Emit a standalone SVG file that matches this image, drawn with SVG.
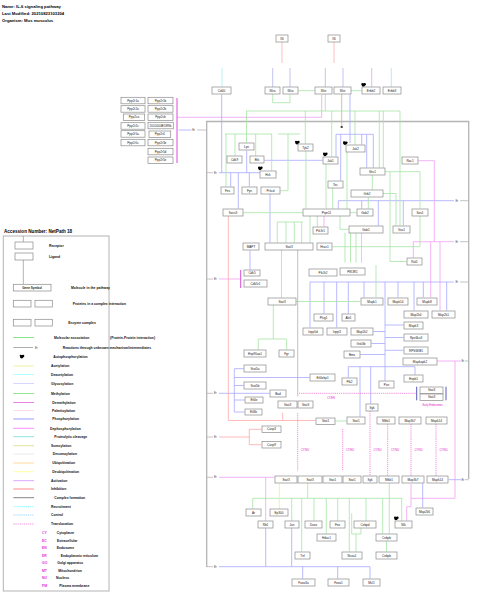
<svg xmlns="http://www.w3.org/2000/svg" width="480" height="603" viewBox="0 0 480 603">
<style>
text{font-family:"Liberation Sans",Arial,sans-serif}
.hd{font-size:4.2px;font-weight:bold;fill:#000}
.acc{font-size:4.6px;font-weight:bold;fill:#000}
.n rect{fill:#fff;stroke:#8a8a8a;stroke-width:.7}
.n text{font-size:3.1px;fill:#222;text-anchor:middle}
.lg{font-size:3.4px;font-weight:bold;fill:#111}
.ab{font-size:3.4px;font-weight:bold;fill:#e030e0}
.er{font-size:2.8px;fill:#444}
.lo{font-size:2.6px;fill:#e020c0}
path{fill:none;stroke-width:.8}
.g{stroke:#a4e4a4;marker-end:url(#ag)}
.gn{stroke:#a4e4a4}
.b{stroke:#a8a8ff;marker-end:url(#ab)}
.bn{stroke:#a8a8ff}
.m{stroke:#f2a0f2;marker-end:url(#am)}
.mn{stroke:#f2a0f2}
.r{stroke:#ffa8a8;marker-end:url(#ar)}
.y{stroke:#eeee90;marker-end:url(#ay)}
.k{stroke:#b0b0b0;marker-end:url(#ak)}
.kn{stroke:#b4b4b4}
.t{stroke:#f070d0;stroke-dasharray:1.2 .9;marker-end:url(#at)}
.cell{stroke:#b4b4b4;stroke-width:1.3}
</style>
<defs>
<marker id="ag" viewBox="0 0 6 6" refX="5.5" refY="3" markerWidth="3.4" markerHeight="3.4" orient="auto" markerUnits="userSpaceOnUse"><path d="M0,0L6,3L0,6z" fill="#00c000" stroke="none"/></marker>
<marker id="ab" viewBox="0 0 6 6" refX="5.5" refY="3" markerWidth="3.4" markerHeight="3.4" orient="auto" markerUnits="userSpaceOnUse"><path d="M0,0L6,3L0,6z" fill="#0000ff" stroke="none"/></marker>
<marker id="am" viewBox="0 0 6 6" refX="5.5" refY="3" markerWidth="3.4" markerHeight="3.4" orient="auto" markerUnits="userSpaceOnUse"><path d="M0,0L6,3L0,6z" fill="#ff00ff" stroke="none"/></marker>
<marker id="ar" viewBox="0 0 6 6" refX="5.5" refY="3" markerWidth="3.4" markerHeight="3.4" orient="auto" markerUnits="userSpaceOnUse"><path d="M0,0L6,3L0,6z" fill="#ff0000" stroke="none"/></marker>
<marker id="ay" viewBox="0 0 6 6" refX="5.5" refY="3" markerWidth="3.4" markerHeight="3.4" orient="auto" markerUnits="userSpaceOnUse"><path d="M0,0L6,3L0,6z" fill="#e0e000" stroke="none"/></marker>
<marker id="ak" viewBox="0 0 6 6" refX="5.5" refY="3" markerWidth="3.4" markerHeight="3.4" orient="auto" markerUnits="userSpaceOnUse"><path d="M0,0L6,3L0,6z" fill="#000" stroke="none"/></marker>
<marker id="at" viewBox="0 0 6 6" refX="5.5" refY="3" markerWidth="3.4" markerHeight="3.4" orient="auto" markerUnits="userSpaceOnUse"><path d="M0,0L6,3L0,6z" fill="#c00090" stroke="none"/></marker>
<g id="blob"><circle cx="0" cy="0" r="1.7" fill="#000"/><circle cx="1.4" cy="-0.7" r="1.2" fill="#000"/><circle cx="-1" cy="-1" r="1" fill="#000"/><path d="M-1.2,0.8L-2.8,2.6L-0.4,2.2z" fill="#0000ff" stroke="none"/></g>
</defs>

<rect width="480" height="603" fill="#fff"/>

<g id="header">
<text class="hd" x="2" y="8.3">Name: IL-6 signaling pathway</text>
<text class="hd" x="2" y="14.9">Last Modified: 20210823103204</text>
<text class="hd" x="2" y="21.5">Organism: Mus musculus</text>
</g>

<g id="cell">
<path class="cell" d="M206.7,567V121.5H468.7V479"/>
</g>

<g id="connectors">
<path d="M282,42V63M334,42V63" stroke="#ffb0b0"/>
<path d="M222,68V87" stroke="#a8f0f0"/>
<path d="M272.7,68V87M290,68V87M325.3,68V87M343,68V87" stroke="#b4b4f0"/>
<path d="M371.7,68V87" stroke="#e0a4ea"/>
<path d="M391.3,68V87" stroke="#a8e4f0"/>
<path class="g" d="M298,90.7H314.5"/>
<path class="g" d="M272.7,94V102.7H290V94.6"/>
<path class="g" d="M351,90.7H361.5"/>
<path class="kn" d="M341.7,94V126"/>
<rect x="340.7" y="126" width="2" height="2" fill="#444"/>
<path class="m" d="M177,117.3H321.7V94.6"/>
<path class="kn" d="M197,130H206.7"/>
<text class="er" x="192.2" y="131.1">Er</text>
<path class="b" d="M191.5,130H178.5"/>

<path class="kn" d="M206.7,172.7H213M206.7,279H213M206.7,393.3H213M206.7,437H213M206.7,477.3H213M206.7,566.7H213"/>
<text class="er" x="214" y="173.8">Er</text>
<text class="er" x="214" y="280.1">Er</text>
<text class="er" x="214" y="394.4">Er</text>
<text class="er" x="214" y="438.1">Er</text>
<text class="er" x="214" y="478.4">Er</text>
<text class="er" x="214" y="567.8">Er</text>
<path class="kn" d="M460,200.7H468.7M460,241.7H468.7M460,282H468.7M465,361H468.7M465,479.7H468.7"/>
<text class="er" x="455.5" y="201.8">Er</text>
<text class="er" x="455.5" y="242.8">Er</text>
<text class="er" x="455.5" y="283.1">Er</text>
<text class="er" x="461.5" y="362.1">Er</text>
<text class="er" x="461.5" y="480.8">Er</text>

<path class="bn" d="M219,172.7H276.7"/>
<path class="b" d="M230.7,172.7V186.6"/>
<path class="b" d="M249.3,172.7V186.6"/>
<path class="b" d="M238.3,172.7V208.6"/>
<path class="b" d="M246.7,172.7V150.6"/>
<path class="b" d="M221.7,172.7V94.6"/>
<path class="m" d="M219,279H240"/>
<path class="b" d="M219,393.3H269.5"/>
<path class="bn" d="M234.3,368.7V412"/>
<path class="b" d="M234.3,368.7H243.6"/>
<path class="b" d="M234.3,385.5H243.6"/>
<path class="b" d="M234.3,400H244.6"/>
<path class="b" d="M234.3,412H244.6"/>
<path class="b" d="M234.3,377.5H309.6"/>
<path class="r" d="M219,437H249.3V429.3H261.4"/>
<path class="r" d="M249.3,437V444.7H261.4"/>
<path class="m" d="M219,477.3H274.5"/>
<path class="m" d="M265.7,477.3V520.6"/>
<path class="b" d="M219,566.7H370V578.6"/>
<path class="b" d="M265.7,566.7V528.3"/>
<path class="b" d="M291.7,566.7V528.3"/>
<path class="b" d="M302.7,566.7V578.6"/>
<path class="b" d="M337.7,566.7V578.6"/>

<path class="b" d="M454,200.7H338.3V208.6"/>
<path class="b" d="M361.7,200.7V208.6"/>
<path class="b" d="M378.3,200.7V225.6"/>
<path class="b" d="M403.3,200.7V225.6"/>
<path class="m" d="M454,241.7H413.3V257.6"/>
<path class="m" d="M434.3,241.7V160.7H418.3"/>
<path class="m" d="M440,241.7V310.4"/>
<path class="m" d="M430.7,241.7V297.4"/>
<path class="b" d="M454,282H310V327.4"/>
<path class="b" d="M324,282V313.6"/>
<path class="b" d="M336.7,282V327.4"/>
<path class="b" d="M348.3,282V313.6"/>
<path class="b" d="M364,282V297.4"/>
<path class="b" d="M398,282V297.4"/>
<path class="b" d="M414,282V310.4"/>
<path class="b" d="M423.3,282V297.4"/>
<path class="b" d="M446.7,282V310.4"/>
<path class="b" d="M385,282V380.5"/>
<path class="b" d="M385,325H403.6"/>
<path class="b" d="M385,337.5H403.6"/>
<path class="b" d="M385,350.3H403.6"/>
<path class="b" d="M385,331.5H373.3"/>
<path class="b" d="M385,343.5H371.3"/>
<path class="b" d="M385,354.5H360.3"/>
<path class="bn" d="M348.3,366.7H415"/>
<path class="b" d="M348.3,366.7V377.6"/>
<path class="b" d="M415,366.7V374.6"/>
<path class="b" d="M360,366.7V416.6"/>
<path class="b" d="M370.7,366.7V403.6"/>
<path class="m" d="M461,361H437.3"/>
<path class="mn" d="M455,361V498.3H411"/>
<path class="m" d="M411,498.3V484"/>
<path class="m" d="M411,498.3V506.7H406.7V520.6"/>
<path class="b" d="M461,479.7H448.5"/>

<path class="b" d="M322.7,160.3H264.4"/>
<path class="b" d="M270,194V242.6"/>
<path class="b" d="M250,269.6V250.4"/>
<path class="bn" d="M336,134.3H373.3"/>
<path class="b" d="M340.7,134.3V180.6"/>
<path class="b" d="M366.7,134.3V167.6"/>
<path class="b" d="M373.3,134.3V167.6"/>
<path class="b" d="M350,143V94.6"/>
<path class="b" d="M361.7,134.3V144.6"/>
<path class="b" d="M336,134.3V156.6"/>

<path class="gn" d="M246,111H400M325.3,94V111"/>
<path class="g" d="M246.5,111V142.6"/>
<path class="g" d="M305.3,111V143.6"/>
<path class="g" d="M331.7,111V156.6"/>
<path class="g" d="M355,111V144.6"/>
<path class="g" d="M379.3,111V167.6"/>
<path class="g" d="M383.3,111V167.6"/>
<path class="g" d="M400,111V225.6"/>
<path class="gn" d="M225,134H272"/>
<path class="g" d="M226,134V186.6"/>
<path class="g" d="M235,134V155.6"/>
<path class="g" d="M255.7,134V155.6"/>
<path class="g" d="M271.7,134V170.6"/>
<path class="gn" d="M278,134H300"/>
<path class="g" d="M288,134V190.7H280.4"/>
<path class="g" d="M303,212.7H243.4"/>
<path class="g" d="M306,151V208.6"/>
<path class="g" d="M326,164V208.6"/>
<path class="g" d="M332.7,187.6V208.6"/>
<path class="g" d="M347,151.5V208.6"/>
<path class="g" d="M372.3,175V189.6"/>
<path class="g" d="M368.3,197.3V208.6"/>
<path class="g" d="M383,193.5H396V225.6"/>
<path class="g" d="M350,212.7H356.6"/>
<path class="g" d="M385,171.7H420V208.6"/>
<path class="g" d="M340,216V229.3H348.6"/>
<path class="g" d="M317.3,216V226.6"/>
<path class="m" d="M324,216V226.6"/>
<path class="gn" d="M277.3,222H303"/>
<path class="g" d="M277.3,222V242.6"/>
<path class="g" d="M286,222V242.6"/>
<path class="g" d="M294.3,222V242.6"/>
<path class="g" d="M301.7,222V242.6"/>
<path class="g" d="M310,216V242.6"/>
<path class="g" d="M345,232.7V262.6"/>
<path class="g" d="M350.5,232.7V262.6"/>
<path class="g" d="M356,232.7V262.6"/>
<path class="g" d="M361.5,232.7V262.6"/>
<path class="g" d="M420,216V246.7H332.4"/>
<path class="g" d="M390,171.7V261.5H406.6"/>
<path class="g" d="M281.5,250V297.6"/>
<path class="g" d="M296,301.5H360.4"/>
<path class="gn" d="M273.3,305V339M258.3,339H286.7"/>
<path class="g" d="M258.3,339V349.6"/>
<path class="g" d="M286.7,339V349.6"/>
<path class="g" d="M376,265V297.4"/>
<path class="g" d="M347,421H335.4"/>

<path class="k" d="M297.7,250V396.3"/>
<path class="r" d="M228.3,216V420.5H315.6"/>
<path class="r" d="M282.7,420.5V412.6"/>

<path class="t" d="M299,393.3H416.2"/>
<path class="t" d="M297.7,413V470.6"/>
<path class="t" d="M342.7,429V470.6"/>
<path class="t" d="M370,411V475.6"/>
<path class="t" d="M387.7,424V475.6"/>
<path class="t" d="M411,424V475.6"/>
<path class="t" d="M436,424V475.6"/>
<text class="lo" x="327" y="398.5">CY/EN</text>
<text class="lo" x="301" y="451">CY/NU</text>
<text class="lo" x="346" y="451">CY/NU</text>
<text class="lo" x="373.5" y="451">CY/NU</text>
<text class="lo" x="391" y="451">CY/NU</text>
<text class="lo" x="414.5" y="451">CY/NU</text>
<text class="lo" x="439.5" y="451">CY/NU</text>

<path class="gn" d="M307.7,483.3V498.3M252.7,498.3H402.3"/>
<path class="g" d="M252.7,498.3V508.6"/>
<path class="g" d="M291.7,498.3V520.6"/>
<path class="g" d="M301.7,498.3V551.6"/>
<path class="g" d="M314,498.3V520.6"/>
<path class="g" d="M326.3,498.3V533.6"/>
<path class="g" d="M337.7,498.3V520.6"/>
<path class="g" d="M349.3,498.3V551.6"/>
<path class="g" d="M366,498.3V520.6"/>
<path class="g" d="M382.7,498.3V533.6"/>
<path class="g" d="M401.7,498.3V520.6"/>
<path class="gn" d="M351.7,513.3V534H361"/>
<path class="g" d="M361,534V528.3"/>
<path class="g" d="M356,534V551.6"/>
<path class="g" d="M389.3,483.3V533.6"/>
<path class="g" d="M386.5,541V551.6"/>
<path class="y" d="M279.3,509V483.8"/>
<path class="b" d="M422.7,483.3V507.6"/>
</g>

<g id="complexes">
<path d="M177,98V163" stroke="#d020d0" stroke-width="1.3"/>
<path d="M240.7,270V288" stroke="#d020d0" stroke-width="1.3"/>
<path d="M309,264Q338,262.4 367,264Q338,265.6 309,264z" fill="#e020e0" stroke="none"/>
<path d="M286.7,397.7Q298.3,396 310,397.7Q298.3,399.4 286.7,397.7z" fill="#3030c0" stroke="none"/>
<path d="M285,412Q300,410.3 316,412Q300,413.7 285,412z" fill="#3030c0" stroke="none"/>
<path d="M320,428.5Q342.5,426.8 365,428.5Q342.5,430.2 320,428.5z" fill="#3030c0" stroke="none"/>
<path d="M276,471.7Q297.5,470 319.3,471.7Q297.5,473.4 276,471.7z" fill="#3030c0" stroke="none"/>
<path d="M326,471.7Q343,470 360,471.7Q343,473.4 326,471.7z" fill="#3030c0" stroke="none"/>
<path d="M416.7,386.7V400.3M446,386.7V400.3" stroke="#3030b0" stroke-width="1.2"/>
<text x="432.7" y="406" class="lo" text-anchor="middle">Early Endosomes</text>
</g>

<g id="autophos">
<use href="#blob" x="363.3" y="85"/>
<use href="#blob" x="297" y="142.7"/>
<use href="#blob" x="325" y="154.5"/>
<use href="#blob" x="345" y="143.3"/>
<use href="#blob" x="260" y="168.5"/>
<use href="#blob" x="396" y="518.5"/>
</g>

<g id="nodes">
<g id="n-il6-1" class="n"><rect x="276" y="35" width="12" height="7"/><text x="282" y="39.6">Il6</text></g>
<g id="n-il6-2" class="n"><rect x="328" y="35" width="12" height="7"/><text x="334" y="39.6">Il6</text></g>
<g id="n-cd40" class="n"><rect x="212" y="87" width="19" height="7"/><text x="221.5" y="91.6">Cd40</text></g>
<g id="n-il6ra-1" class="n"><rect x="265" y="87" width="15" height="7"/><text x="272.5" y="91.6">Il6ra</text></g>
<g id="n-il6ra-2" class="n"><rect x="283" y="87" width="15" height="7"/><text x="290.5" y="91.6">Il6ra</text></g>
<g id="n-il6st-1" class="n"><rect x="315" y="87" width="17" height="7"/><text x="323.5" y="91.6">Il6st</text></g>
<g id="n-il6st-2" class="n"><rect x="334" y="87" width="17" height="7"/><text x="342.5" y="91.6">Il6st</text></g>
<g id="n-erbb2" class="n"><rect x="362" y="87" width="18" height="7"/><text x="371" y="91.6">Erbb2</text></g>
<g id="n-erbb3" class="n"><rect x="383" y="87" width="18" height="7"/><text x="392" y="91.6">Erbb3</text></g>

<g id="n-ppp2r1a" class="n"><rect x="121" y="97.3" width="24" height="6.5"/><text x="133" y="101.6">Ppp2r1a</text></g>
<g id="n-ppp2r2a" class="n"><rect x="121" y="105.7" width="24" height="6.5"/><text x="133" y="110">Ppp2r2a</text></g>
<g id="n-ppp2ca" class="n"><rect x="123.3" y="114" width="21.4" height="6.5"/><text x="134" y="118.3">Ppp2ca</text></g>
<g id="n-ppp2r2c" class="n"><rect x="121" y="122.7" width="24" height="6.5"/><text x="133" y="127">Ppp2r2c</text></g>
<g id="n-ppp2r5a" class="n"><rect x="121" y="130.7" width="24" height="6.5"/><text x="133" y="135">Ppp2r5a</text></g>
<g id="n-ppp2r5c" class="n"><rect x="121" y="139.3" width="24" height="6.5"/><text x="133" y="143.6">Ppp2r5c</text></g>
<g id="n-ppp2r1b" class="n"><rect x="148" y="97.3" width="25" height="6.5"/><text x="160.5" y="101.6">Ppp2r1b</text></g>
<g id="n-ppp2r2b" class="n"><rect x="148" y="105.7" width="25" height="6.5"/><text x="160.5" y="110">Ppp2r2b</text></g>
<g id="n-ppp2cb" class="n"><rect x="148" y="114" width="25" height="6.5"/><text x="160.5" y="118.3">Ppp2cb</text></g>
<g id="n-rik" class="n"><rect x="148" y="122.3" width="25.3" height="6.5"/><text x="160.6" y="126.6">2010004B18Rik</text></g>
<g id="n-ppp2r4" class="n"><rect x="149" y="131" width="21.7" height="6.5"/><text x="159.8" y="135.3">Ppp2r4</text></g>
<g id="n-ppp2r5b" class="n"><rect x="148" y="139.3" width="25" height="6.5"/><text x="160.5" y="143.6">Ppp2r5b</text></g>
<g id="n-ppp2r5d" class="n"><rect x="148" y="148.3" width="25" height="6.5"/><text x="160.5" y="152.6">Ppp2r5d</text></g>
<g id="n-ppp2r5e" class="n"><rect x="148" y="157" width="25" height="6.5"/><text x="160.5" y="161.3">Ppp2r5e</text></g>

<g id="n-lyn" class="n"><rect x="239" y="143" width="15" height="7"/><text x="246.5" y="147.6">Lyn</text></g>
<g id="n-cdk9" class="n"><rect x="227" y="156" width="15" height="7"/><text x="234.5" y="160.6">Cdk9</text></g>
<g id="n-btk" class="n"><rect x="250" y="156" width="14" height="7"/><text x="257" y="160.6">Btk</text></g>
<g id="n-hck" class="n"><rect x="260" y="171" width="16" height="7"/><text x="268" y="175.6">Hck</text></g>
<g id="n-fes" class="n"><rect x="221" y="187" width="13" height="7"/><text x="227.5" y="191.6">Fes</text></g>
<g id="n-fyn" class="n"><rect x="242" y="187" width="15" height="7"/><text x="249.5" y="191.6">Fyn</text></g>
<g id="n-prkcd" class="n"><rect x="261" y="187" width="19" height="7"/><text x="270.5" y="191.6">Prkcd</text></g>
<g id="n-tyk2" class="n"><rect x="298" y="144" width="15" height="7"/><text x="305.5" y="148.6">Tyk2</text></g>
<g id="n-jak1" class="n"><rect x="323" y="157" width="15" height="7"/><text x="330.5" y="161.6">Jak1</text></g>
<g id="n-jak2" class="n"><rect x="346" y="145" width="19" height="7"/><text x="355.5" y="149.6">Jak2</text></g>
<g id="n-tec" class="n"><rect x="328" y="181" width="15" height="7"/><text x="335.5" y="185.6">Tec</text></g>
<g id="n-shc1" class="n"><rect x="360" y="168" width="25" height="7"/><text x="372.5" y="172.6">Shc1</text></g>
<g id="n-rac1" class="n"><rect x="402" y="157" width="16" height="7"/><text x="410" y="161.6">Rac1</text></g>
<g id="n-grb2" class="n"><rect x="351" y="190" width="32" height="7"/><text x="367" y="194.6">Grb2</text></g>
<g id="n-socs3" class="n"><rect x="223" y="209" width="20" height="7"/><text x="233" y="213.6">Socs3</text></g>
<g id="n-ptpn11" class="n"><rect x="303" y="209" width="47" height="7"/><text x="326.5" y="213.6">Ptpn11</text></g>
<g id="n-gab2" class="n"><rect x="357" y="209" width="16" height="7"/><text x="365" y="213.6">Gab2</text></g>
<g id="n-sos1" class="n"><rect x="412" y="209" width="16" height="7"/><text x="420" y="213.6">Sos1</text></g>
<g id="n-pik3r" class="n"><rect x="313" y="227" width="15" height="7"/><text x="320.5" y="231.6">Pik3r1</text></g>
<g id="n-gab1" class="n"><rect x="349" y="226" width="34" height="7"/><text x="366" y="230.6">Gab1</text></g>
<g id="n-vav1" class="n"><rect x="393" y="226" width="17" height="7"/><text x="401.5" y="230.6">Vav1</text></g>
<g id="n-siapt" class="n"><rect x="243" y="243" width="16" height="7"/><text x="251" y="247.6">MAPT</text></g>
<g id="n-stat3-a" class="n"><rect x="265" y="243" width="48" height="7"/><text x="289" y="247.6">Stat3</text></g>
<g id="n-hras1" class="n"><rect x="317" y="243" width="15" height="7"/><text x="324.5" y="247.6">Hras1</text></g>
<g id="n-raf1" class="n"><rect x="407" y="258" width="15" height="7"/><text x="414.5" y="262.6">Raf1</text></g>
<g id="n-cdk5" class="n"><rect x="244" y="270" width="16" height="6"/><text x="252" y="274.1">Cdk5</text></g>
<g id="n-cdk5r1" class="n"><rect x="244" y="280" width="23" height="7"/><text x="255.5" y="284.6">Cdk5r1</text></g>
<g id="n-pik3r2" class="n"><rect x="309" y="269" width="28" height="7"/><text x="323" y="273.6">Pik3r2</text></g>
<g id="n-pik3r1" class="n"><rect x="340" y="268" width="25" height="7"/><text x="352.5" y="272.6">PIK3R1</text></g>
<g id="n-stat3-b" class="n"><rect x="268" y="298" width="28" height="7"/><text x="282" y="302.6">Stat3</text></g>
<g id="n-mapk1" class="n"><rect x="361" y="298" width="22" height="7"/><text x="372" y="302.6">Mapk1</text></g>
<g id="n-mapk14-a" class="n"><rect x="388" y="298" width="20" height="7"/><text x="398" y="302.6">Mapk14</text></g>
<g id="n-mapk8" class="n"><rect x="417" y="298" width="20" height="7"/><text x="427" y="302.6">Mapk8</text></g>
<g id="n-map2k4" class="n"><rect x="404" y="311" width="24" height="7"/><text x="416" y="315.6">Map2k4</text></g>
<g id="n-map2k1" class="n"><rect x="432" y="311" width="23" height="7"/><text x="443.5" y="315.6">Map2k1</text></g>
<g id="n-plcg1" class="n"><rect x="314" y="314" width="19" height="7"/><text x="323.5" y="318.6">Plcg1</text></g>
<g id="n-akt1" class="n"><rect x="342" y="314" width="13" height="7"/><text x="348.5" y="318.6">Akt1</text></g>
<g id="n-mapk3" class="n"><rect x="404" y="322" width="19" height="7"/><text x="413.5" y="326.6">Mapk3</text></g>
<g id="n-inpp5d" class="n"><rect x="303" y="328" width="20" height="7"/><text x="313" y="332.6">Inpp5d</text></g>
<g id="n-inppl1" class="n"><rect x="327" y="328" width="20" height="7"/><text x="337" y="332.6">Inppl1</text></g>
<g id="n-map2k2" class="n"><rect x="351" y="328" width="22" height="7"/><text x="362" y="332.6">Map2k2</text></g>
<g id="n-rps6ka3" class="n"><rect x="404" y="334" width="24" height="7"/><text x="416" y="338.6">Rps6ka3</text></g>
<g id="n-gsk3b" class="n"><rect x="351" y="340" width="20" height="7"/><text x="361" y="344.6">Gsk3b</text></g>
<g id="n-hsp90aa1" class="n"><rect x="244" y="350" width="22" height="7"/><text x="255" y="354.6">Hsp90aa1</text></g>
<g id="n-fgr" class="n"><rect x="279" y="350" width="15" height="7"/><text x="286.5" y="354.6">Fgr</text></g>
<g id="n-rps6kb1" class="n"><rect x="404" y="347" width="24" height="7"/><text x="416" y="351.6">RPS6KB1</text></g>
<g id="n-bmx" class="n"><rect x="344" y="351" width="16" height="7"/><text x="352" y="355.6">Bmx</text></g>
<g id="n-mapkapk2" class="n"><rect x="403" y="358" width="34" height="7"/><text x="420" y="362.6">Mapkapk2</text></g>
<g id="n-stat5a" class="n"><rect x="244" y="365" width="22" height="7"/><text x="255" y="369.6">Stat5a</text></g>
<g id="n-stat5b" class="n"><rect x="244" y="382" width="22" height="7"/><text x="255" y="386.6">Stat5b</text></g>
<g id="n-eif4ebp1" class="n"><rect x="310" y="374" width="25" height="7"/><text x="322.5" y="378.6">Eif4ebp1</text></g>
<g id="n-hspb1" class="n"><rect x="404" y="375" width="19" height="7"/><text x="413.5" y="379.6">Hspb1</text></g>
<g id="n-ptk2" class="n"><rect x="342" y="378" width="15" height="7"/><text x="349.5" y="382.6">Ptk2</text></g>
<g id="n-pxn" class="n"><rect x="379" y="381" width="15" height="7"/><text x="386.5" y="385.6">Pxn</text></g>
<g id="n-bad" class="n"><rect x="270" y="390" width="16" height="7"/><text x="278" y="394.6">Bad</text></g>
<g id="n-eif4e" class="n"><rect x="245" y="397" width="18" height="6"/><text x="254" y="401.1">Eif4e</text></g>
<g id="n-stat3-c" class="n"><rect x="278" y="401" width="19" height="7"/><text x="287.5" y="405.6">Stat3</text></g>
<g id="n-stat3-d" class="n"><rect x="298" y="401" width="15" height="7"/><text x="305.5" y="405.6">Stat3</text></g>
<g id="n-stat3-e" class="n"><rect x="420" y="387" width="23" height="6.5"/><text x="431.5" y="391.4">Stat3</text></g>
<g id="n-stat3-f" class="n"><rect x="420" y="394" width="23" height="6.5"/><text x="431.5" y="398.4">Stat3</text></g>
<g id="n-syk-a" class="n"><rect x="366" y="404" width="12" height="7"/><text x="372" y="408.6">Syk</text></g>
<g id="n-eif4b" class="n"><rect x="245" y="409" width="17" height="6"/><text x="253.5" y="413.1">Eif4b</text></g>
<g id="n-stat1-a" class="n"><rect x="316" y="418" width="19" height="6.5"/><text x="325.5" y="422.4">Stat1</text></g>
<g id="n-stat1-b" class="n"><rect x="347" y="417" width="18" height="7"/><text x="356" y="421.6">Stat1</text></g>
<g id="n-nfkb1-a" class="n"><rect x="377" y="417" width="18" height="7"/><text x="386" y="421.6">Nfkb1</text></g>
<g id="n-map3k7-a" class="n"><rect x="399" y="417" width="22" height="7"/><text x="410" y="421.6">Map3k7</text></g>
<g id="n-mapk14-b" class="n"><rect x="426" y="417" width="21" height="7"/><text x="436.5" y="421.6">Mapk14</text></g>
<g id="n-casp3" class="n"><rect x="262" y="426" width="19" height="6.5"/><text x="271.5" y="430.4">Casp3</text></g>
<g id="n-casp9" class="n"><rect x="262" y="441.5" width="19" height="6.5"/><text x="271.5" y="445.9">Casp9</text></g>
<g id="n-stat3-g" class="n"><rect x="275" y="476" width="22" height="7"/><text x="286" y="480.6">Stat3</text></g>
<g id="n-stat3-h" class="n"><rect x="298" y="476" width="24" height="7"/><text x="310" y="480.6">Stat3</text></g>
<g id="n-stat1-c" class="n"><rect x="323" y="476" width="19" height="7"/><text x="332.5" y="480.6">Stat1</text></g>
<g id="n-stat1-d" class="n"><rect x="343" y="476" width="18" height="7"/><text x="352" y="480.6">Stat1</text></g>
<g id="n-syk-b" class="n"><rect x="363" y="476" width="14" height="7"/><text x="370" y="480.6">Syk</text></g>
<g id="n-nfkb1-b" class="n"><rect x="379" y="476" width="20" height="7"/><text x="389" y="480.6">Nfkb1</text></g>
<g id="n-map3k7-b" class="n"><rect x="402" y="476" width="22" height="7"/><text x="413" y="480.6">Map3k7</text></g>
<g id="n-mapk14-c" class="n"><rect x="427" y="476" width="21" height="7"/><text x="437.5" y="480.6">Mapk14</text></g>
<g id="n-ar" class="n"><rect x="246" y="509" width="15" height="7"/><text x="253.5" y="513.6">Ar</text></g>
<g id="n-ep300" class="n"><rect x="270" y="509" width="18" height="7"/><text x="279" y="513.6">Ep300</text></g>
<g id="n-map2k6" class="n"><rect x="416" y="508" width="17" height="7"/><text x="424.5" y="512.6">Map2k6</text></g>
<g id="n-rb1" class="n"><rect x="258" y="521" width="15" height="7"/><text x="265.5" y="525.6">Rb1</text></g>
<g id="n-jun" class="n"><rect x="285" y="521" width="14" height="7"/><text x="292" y="525.6">Jun</text></g>
<g id="n-daxx" class="n"><rect x="305" y="521" width="17" height="7"/><text x="313.5" y="525.6">Daxx</text></g>
<g id="n-fos" class="n"><rect x="330" y="521" width="15" height="7"/><text x="337.5" y="525.6">Fos</text></g>
<g id="n-cebpd" class="n"><rect x="354" y="521" width="22" height="7"/><text x="365" y="525.6">Cebpd</text></g>
<g id="n-nlk" class="n"><rect x="395" y="521" width="17" height="7"/><text x="403.5" y="525.6">Nlk</text></g>
<g id="n-hdac1" class="n"><rect x="317" y="534" width="19" height="7"/><text x="326.5" y="538.6">Hdac1</text></g>
<g id="n-cebpb-a" class="n"><rect x="376" y="534" width="21" height="7"/><text x="386.5" y="538.6">Cebpb</text></g>
<g id="n-tnf" class="n"><rect x="295" y="552" width="15" height="7"/><text x="302.5" y="556.6">Tnf</text></g>
<g id="n-ncoa1" class="n"><rect x="342" y="552" width="20" height="7"/><text x="352" y="556.6">Ncoa1</text></g>
<g id="n-cebpb-b" class="n"><rect x="376" y="552" width="21" height="7"/><text x="386.5" y="556.6">Cebpb</text></g>
<g id="n-foxo3a" class="n"><rect x="292" y="579" width="23" height="7"/><text x="303.5" y="583.6">Foxo3a</text></g>
<g id="n-foxo1" class="n"><rect x="328" y="579" width="21" height="7"/><text x="338.5" y="583.6">Foxo1</text></g>
<g id="n-mcl1" class="n"><rect x="363" y="579" width="17" height="7"/><text x="371.5" y="583.6">Mcl1</text></g>
</g>

<g id="legend">
<text class="acc" x="4" y="233">Accession Number: NetPath 18</text>
<rect x="3.3" y="236" width="105.7" height="355" fill="none" stroke="#b4b4b4" stroke-width="1"/>
<path d="M23.3,236V242M23.3,260V284.3" stroke="#a0a0a0" stroke-width=".8"/>
<rect x="15" y="242" width="18" height="7" fill="#fff" stroke="#8a8a8a" stroke-width=".7"/>
<rect x="15" y="253" width="18" height="7" fill="#fff" stroke="#8a8a8a" stroke-width=".7"/>
<text class="lg" x="49" y="246.9">Receptor</text>
<text class="lg" x="49" y="257.9">Ligand</text>
<g class="n"><rect x="13.3" y="284.3" width="37.7" height="6.7"/><text x="32.1" y="288.8" style="font-weight:bold">Gene Symbol</text></g>
<text class="lg" x="71" y="288.9">Molecule in the pathway</text>
<path d="M22.7,296.5Q32.5,294.9 42.3,296.5Q32.5,298.1 22.7,296.5z" fill="#3030c0"/>
<rect x="13.3" y="300.3" width="17.7" height="6.7" fill="#fff" stroke="#8a8a8a" stroke-width=".7"/>
<rect x="35" y="300.3" width="17.3" height="6.7" fill="#fff" stroke="#8a8a8a" stroke-width=".7"/>
<text class="lg" x="72.7" y="304.5">Proteins in a complex interaction</text>
<path d="M22.7,311.7Q32.5,310.1 42.3,311.7Q32.5,313.3 22.7,311.7z" fill="#3030c0"/>
<path d="M22.7,314.3Q32.5,312.7 42.3,314.3Q32.5,315.9 22.7,314.3z" fill="#e020e0"/>
<rect x="13.3" y="319.3" width="17.7" height="6.7" fill="#fff" stroke="#8a8a8a" stroke-width=".7"/>
<rect x="35" y="319.3" width="17.3" height="6.7" fill="#fff" stroke="#8a8a8a" stroke-width=".7"/>
<text class="lg" x="68.3" y="323.9">Enzyme complex</text>
<path d="M22.7,330.3Q32.2,328.7 41.7,330.3Q32.2,331.9 22.7,330.3z" fill="#e020e0"/>

<path d="M13.3,337.5H34" stroke="#66dd66"/><path d="M33.5,336L36.5,337.5L33.5,339z" fill="#00c000"/>
<text class="lg" x="54" y="338.7">Molecular association</text>
<text class="lg" x="110" y="338.7">(Protein-Protein interaction)</text>
<path d="M13.3,347.5H33" stroke="#999"/><text class="er" x="35" y="348.6">Er</text>
<text class="lg" x="62.7" y="348.7">Reactions through unknown mechanism/intermediates</text>
<use href="#blob" x="21.7" y="356.7"/>
<text class="lg" x="53.3" y="358.2">Autophosphorylation</text>

<path d="M13.3,366H34" stroke="#eeee80"/><path d="M33.5,364.5L36.5,366L33.5,367.5z" fill="#c8c800"/>
<text class="lg" x="51" y="367.2">Acetylation</text>
<path d="M13.3,374.5H34" stroke="#99ffff"/><path d="M33.5,373L36.5,374.5L33.5,376z" fill="#30e0e0"/>
<text class="lg" x="51" y="375.7">Deacetylation</text>
<path d="M13.3,383.5H34" stroke="#ccccff"/><path d="M33.5,382L36.5,383.5L33.5,385z" fill="#a0a0ff"/>
<text class="lg" x="51" y="384.7">Glycosylation</text>
<path d="M13.3,393.5H34" stroke="#77e077"/><path d="M33.5,392L36.5,393.5L33.5,395z" fill="#00c000"/>
<text class="lg" x="51" y="394.7">Methylation</text>
<path d="M13.3,402.5H34" stroke="#e060e0"/><path d="M33.5,401L36.5,402.5L33.5,404z" fill="#c000c0"/>
<text class="lg" x="52.3" y="403.7">Demethylation</text>
<path d="M13.3,410.5H34" stroke="#ffd0e4"/><path d="M33.5,409L36.5,410.5L33.5,412z" fill="#ffb0d0"/>
<text class="lg" x="52" y="411.7">Palmitoylation</text>
<path d="M13.3,419H34" stroke="#8080ff"/><path d="M33.5,417.5L36.5,419L33.5,420.5z" fill="#0000ff"/>
<text class="lg" x="52.3" y="420.2">Phosphorylation</text>
<path d="M13.3,428.3H34" stroke="#ff70ff"/><path d="M33.5,426.8L36.5,428.3L33.5,429.8z" fill="#ff00ff"/>
<text class="lg" x="50" y="429.5">Dephosphorylation</text>
<path d="M13.3,436.7H34" stroke="#70dddd"/><path d="M33.5,435.2L36.5,436.7L33.5,438.2z" fill="#00b8b8"/>
<text class="lg" x="54.3" y="437.9">Proteolytic cleavage</text>
<path d="M13.3,445.7H34" stroke="#dada80"/><path d="M33.5,444.2L36.5,445.7L33.5,447.2z" fill="#b0b000"/>
<text class="lg" x="51" y="446.9">Sumoylation</text>
<path d="M13.3,454H34" stroke="#e4e4e4"/><path d="M33.5,452.5L36.5,454L33.5,455.5z" fill="#c4c4c4"/>
<text class="lg" x="52.7" y="455.2">Desumoylation</text>
<path d="M13.3,463H34" stroke="#ffd080"/><path d="M33.5,461.5L36.5,463L33.5,464.5z" fill="#ffa800"/>
<text class="lg" x="52.3" y="464.2">Ubiquitination</text>
<path d="M13.3,471.7H34" stroke="#ffff80"/><path d="M33.5,470.2L36.5,471.7L33.5,473.2z" fill="#eeee00"/>
<text class="lg" x="52.3" y="472.9">Deubiquitination</text>
<path d="M13.3,480.7H34" stroke="#d090ff"/><path d="M33.5,479.2L36.5,480.7L33.5,482.2z" fill="#9000ff"/>
<text class="lg" x="51" y="481.9">Activation</text>
<path d="M13.3,489H34" stroke="#ff7070"/><path d="M33.5,487.5L36.5,489L33.5,490.5z" fill="#ff0000"/>
<text class="lg" x="51" y="490.2">Inhibition</text>
<path d="M13.3,497.7H34" stroke="#666"/><path d="M33.5,496.2L36.5,497.7L33.5,499.2z" fill="#000"/>
<text class="lg" x="54.3" y="498.9">Complex formation</text>
<path d="M13.3,506.7H34" stroke="#66ffff" stroke-dasharray="1.2 .9"/><path d="M33.5,505.2L36.5,506.7L33.5,508.2z" fill="#00e8e8"/>
<text class="lg" x="51" y="507.9">Recruitment</text>
<path d="M13.3,515H34" stroke="#88ccff" stroke-dasharray="1.2 .9"/><path d="M33.5,513.5L36.5,515L33.5,516.5z" fill="#30a8ff"/>
<text class="lg" x="51" y="516.2">Control</text>
<path d="M13.3,524H34" stroke="#f070d8" stroke-dasharray="1.2 .9"/><path d="M33.5,522.5L36.5,524L33.5,525.5z" fill="#c00090"/>
<text class="lg" x="51" y="525.2">Translocation</text>

<text class="ab" x="42" y="533.9">CY</text><text class="lg" x="56.7" y="533.9">Cytoplasm</text>
<text class="ab" x="42" y="541.9">EC</text><text class="lg" x="57" y="541.9">Extracellular</text>
<text class="ab" x="42" y="548.9">EN</text><text class="lg" x="56.7" y="548.9">Endosome</text>
<text class="ab" x="42" y="556.9">ER</text><text class="lg" x="60.7" y="556.9">Endoplasmic reticulum</text>
<text class="ab" x="42" y="563.9">GO</text><text class="lg" x="57.3" y="563.9">Golgi apparatus</text>
<text class="ab" x="42" y="571.9">MT</text><text class="lg" x="58.3" y="571.9">Mitochondrion</text>
<text class="ab" x="42" y="578.9">NU</text><text class="lg" x="56" y="578.9">Nucleus</text>
<text class="ab" x="42" y="586.9">PM</text><text class="lg" x="59.3" y="586.9">Plasma membrane</text>
</g>
</svg>
